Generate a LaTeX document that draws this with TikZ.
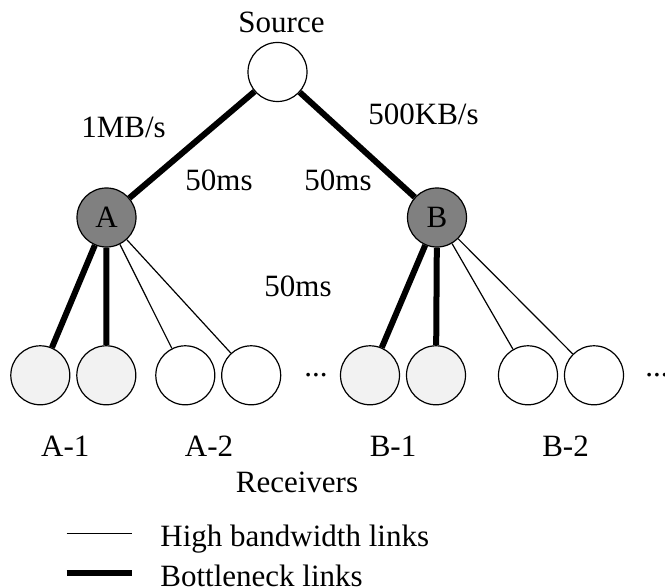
\documentclass[tikz,border=0pt]{standalone}
\usepackage{fontspec}
\setmainfont{Liberation Serif}

\begin{document}
\begin{tikzpicture}[x=0.5pt,y=0.5pt,
  font=\fontsize{15.5}{18}\selectfont,
  host/.style={circle,draw,line width=0.6pt,minimum size=29.5pt,inner sep=0pt},
  router/.style={host,fill=black!50},
  slowhost/.style={host,fill=black!5},
  fasthost/.style={host,fill=white},
  bottleneck/.style={line width=3pt},
  highbw/.style={line width=0.6pt},
  lbl/.style={anchor=base,inner sep=0pt}]
  \useasboundingbox (0,0) rectangle (665,588);

  \node[fasthost] (src) at (277.5,516) {};
  \node[lbl] (srclbl) at (281.5,555) {Source};

  \node[router] (a) at (106.5,370.5) {A};
  \node[router] (b) at (437,370.5) {B};

  \node[slowhost] (a1) at (40.3,212.7) {};
  \node[slowhost] (a2) at (106.3,212.7) {};
  \node[fasthost] (a3) at (185.3,212.7) {};
  \node[fasthost] (a4) at (251.2,212.7) {};
  \node[lbl] (adots) at (316,211) {...};

  \node[slowhost] (b1) at (370,212.7) {};
  \node[slowhost] (b2) at (436,212.7) {};
  \node[fasthost] (b3) at (528,212.7) {};
  \node[fasthost] (b4) at (594,212.7) {};
  \node[lbl] (bdots) at (657,211) {...};

  \draw[bottleneck] (src) -- (a);
  \draw[bottleneck] (src) -- (b);
  \draw[bottleneck] (a) -- (a1);
  \draw[bottleneck] (a) -- (a2);
  \draw[highbw] (a) -- (a3);
  \draw[highbw] (a) -- (a4);
  \draw[bottleneck] (b) -- (b1);
  \draw[bottleneck] (b) -- (b2);
  \draw[highbw] (b) -- (b3);
  \draw[highbw] (b) -- (b4);

  \node[lbl] (bwa) at (123.5,450) {1MB/s};
  \node[lbl] (bwb) at (423.5,463) {500KB/s};
  \node[lbl] (dla) at (219,397) {50ms};
  \node[lbl] (dlb) at (338,397) {50ms};
  \node[lbl] (dlr) at (298,291) {50ms};

  \node[lbl] (la1) at (65.3,131) {A-1};
  \node[lbl] (la2) at (209,131) {A-2};
  \node[lbl] (lb1) at (393,131) {B-1};
  \node[lbl] (lb2) at (565.5,131) {B-2};
  \node[lbl] (rcv) at (297,95) {Receivers};

  \coordinate (k1) at (66.7,54.7);
  \coordinate (k2) at (132.3,54.7);
  \coordinate (k3) at (66.7,14.7);
  \coordinate (k4) at (132.3,14.7);
  \draw[highbw] (k1) -- (k2);
  \draw[bottleneck] (k3) -- (k4);
  \node[lbl,anchor=base west] (khigh) at (160,41.3) {High bandwidth links};
  \node[lbl,anchor=base west] (kbott) at (160,1.5) {Bottleneck links};
\end{tikzpicture}
\end{document}
